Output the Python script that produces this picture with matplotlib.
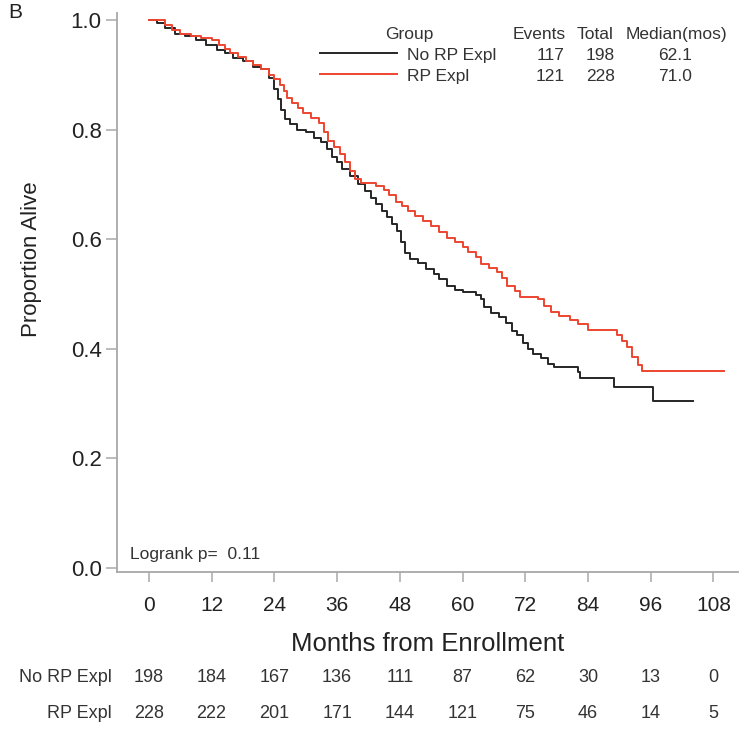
import matplotlib
matplotlib.use('Agg')
import matplotlib.pyplot as plt
from matplotlib.lines import Line2D

plt.rcParams['font.family'] = ['Liberation Sans', 'DejaVu Sans']

# KM steps (months, survival after the step)
no_rp_t = [0, 1.5, 3, 5, 7, 9, 11, 13, 14.5, 16, 18, 20, 21.5, 23, 24, 24.7, 25.3, 26, 27,
           28.3, 30, 31.5, 33, 34, 35, 36, 37, 38.5, 40, 41.3, 42.5, 43.5, 44.5, 45.5, 46.5,
           47.5, 48.3, 49, 50, 51.5, 53, 54.5, 55.5, 57, 58.5, 60, 62.5, 63.5, 64.2, 65.5, 67,
           68.3, 69.5, 70.5, 71.5, 72.5, 73.5, 75, 76.3, 77.5, 82, 82.5, 89, 96.5, 104]
no_rp_s = [1.0, 0.995, 0.985, 0.975, 0.97, 0.963, 0.955, 0.945, 0.94, 0.93, 0.925, 0.915, 0.91,
           0.895, 0.875, 0.855, 0.835, 0.82, 0.81, 0.80, 0.795, 0.785, 0.777, 0.765, 0.75, 0.74,
           0.728, 0.715, 0.70, 0.688, 0.675, 0.665, 0.652, 0.64, 0.628, 0.615, 0.595, 0.575,
           0.563, 0.556, 0.545, 0.537, 0.527, 0.514, 0.507, 0.503, 0.498, 0.49, 0.476, 0.465,
           0.458, 0.447, 0.432, 0.425, 0.41, 0.40, 0.39, 0.383, 0.373, 0.367, 0.357, 0.347, 0.33,
           0.305, 0.305]

rp_t = [0, 3, 4.5, 6, 8, 10, 12, 13.5, 14.5, 15.5, 17, 18.5, 20, 21.5, 23, 24, 25, 25.8, 26.5,
        27.3, 28.5, 29.5, 31, 32.5, 33.5, 34.3, 35.5, 36.5, 37.5, 38.5, 39.5, 40.5, 43.5, 45,
        46, 47.3, 48.5, 49.5, 51, 52.5, 54, 55.5, 57, 58.5, 60, 61, 62.5, 63.5, 65, 66.5, 67.5,
        68.5, 70, 71, 74.5, 75.5, 77, 78.5, 80.5, 82, 84, 89.5, 90.5, 91.5, 92.5, 93.5, 94.3, 110]
rp_s = [1.0, 0.99, 0.982, 0.975, 0.97, 0.968, 0.963, 0.955, 0.947, 0.94, 0.932, 0.925, 0.918,
        0.91, 0.9, 0.892, 0.882, 0.87, 0.858, 0.848, 0.84, 0.83, 0.822, 0.812, 0.795, 0.78,
        0.768, 0.755, 0.74, 0.725, 0.71, 0.703, 0.697, 0.69, 0.68, 0.668, 0.66, 0.652, 0.642,
        0.633, 0.625, 0.613, 0.603, 0.594, 0.585, 0.577, 0.568, 0.555, 0.548, 0.54, 0.53, 0.515,
        0.505, 0.495, 0.49, 0.478, 0.467, 0.46, 0.452, 0.445, 0.435, 0.425, 0.415, 0.403, 0.385,
        0.37, 0.36, 0.36]

groups = ['No RP Expl', 'RP Expl']
events = [117, 121]
totals = [198, 228]
medians = ['62.1', '71.0']
colors = ['#262626', '#ec4530']

months = [0, 12, 24, 36, 48, 60, 72, 84, 96, 108]
at_risk = {'No RP Expl': [198, 184, 167, 136, 111, 87, 62, 30, 13, 0],
           'RP Expl': [228, 222, 201, 171, 144, 121, 75, 46, 14, 5]}
yticks = [0.0, 0.2, 0.4, 0.6, 0.8, 1.0]

W, H = 750, 730
def px(x, y):
    return x / W, 1 - y / H

fig = plt.figure(figsize=(7.5, 7.3), dpi=100)
ax = fig.add_axes([117 / W, 1 - 572 / H, (738 - 117) / W, (572 - 13) / H])

ax.step(no_rp_t, no_rp_s, where='post', color=colors[0], lw=1.4)
ax.step(rp_t, rp_s, where='post', color=colors[1], lw=1.4)

ax.set_xlim(-6.1, 112.7)
ax.set_ylim(-0.0073, 1.0128)
ax.set_xticks(months)
ax.set_yticks(yticks)
ax.set_yticklabels([f'{v:.1f}' for v in yticks])
for s in ['top', 'right']:
    ax.spines[s].set_visible(False)
for s in ['left', 'bottom']:
    ax.spines[s].set_color('#a8a8a8')
    ax.spines[s].set_linewidth(1.3)
ax.tick_params(axis='x', length=7, width=1.2, color='#b0b0b0', pad=10, labelsize=15, labelcolor='#222222')
ax.tick_params(axis='y', length=8, width=1.2, color='#b0b0b0', pad=3, labelsize=16, labelcolor='#222222')

ax.set_ylabel('Proportion Alive', fontsize=16, color='#222222')
ax.yaxis.set_label_coords(-0.12, 0.56)
ax.set_xlabel('Months from Enrollment', fontsize=18.5, color='#222222')
ax.xaxis.set_label_coords(0.5, -0.108)

ax.text((130 - 117) / 621, (572 - 555) / 559, 'Logrank p=  0.11', transform=ax.transAxes,
        fontsize=12.5, color='#333333', ha='left', va='center')

# number at risk table
row_y = [678, 713]
for g, yy in zip(groups, row_y):
    yf = (572 - yy) / 559
    ax.text(-0.008, yf, g, transform=ax.transAxes, ha='right', va='center', fontsize=13,
            color='#333333', clip_on=False)
    for m, n in zip(months, at_risk[g]):
        ax.text(m, yf, str(n), transform=ax.get_xaxis_transform(), ha='center', va='center',
                fontsize=13, color='#333333', clip_on=False)

# legend table
fs = 12.5
tc = '#333333'
fig.text(*px(409, 39), 'Group', ha='center', va='baseline', fontsize=fs, color=tc)
fig.text(*px(539, 39), 'Events', ha='center', va='baseline', fontsize=fs, color=tc)
fig.text(*px(595, 39), 'Total', ha='center', va='baseline', fontsize=fs, color=tc)
fig.text(*px(676, 39), 'Median(mos)', ha='center', va='baseline', fontsize=fs, color=tc)
for i, (yy, yb) in enumerate([(53, 60), (74, 81)]):
    x0, y0 = px(320, yy)
    x1, _ = px(397, yy)
    fig.add_artist(Line2D([x0, x1], [y0, y0], color=colors[i], lw=1.4, transform=fig.transFigure))
    fig.text(*px(407, yb), groups[i], ha='left', va='baseline', fontsize=fs, color=tc)
    fig.text(*px(565, yb), str(events[i]), ha='right', va='baseline', fontsize=fs, color=tc)
    fig.text(*px(615, yb), str(totals[i]), ha='right', va='baseline', fontsize=fs, color=tc)
    fig.text(*px(675, yb), medians[i], ha='center', va='baseline', fontsize=fs, color=tc)

fig.text(*px(15, 12), 'B', ha='center', va='center', fontsize=15, color='#222222')

fig.savefig('out.png', dpi=100)
